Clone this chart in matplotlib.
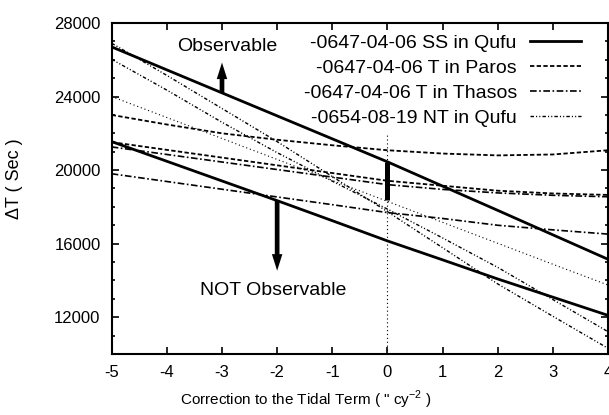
import matplotlib
matplotlib.use("Agg")
import matplotlib.pyplot as plt
from matplotlib.ticker import MultipleLocator
import numpy as np

plt.rcParams['font.family'] = ['Liberation Sans', 'DejaVu Sans']
plt.rcParams['axes.unicode_minus'] = False

# correction to the tidal term ("/cy^2)
x_vals = [-5, -4, -3, -2, -1, 0, 1, 2, 3, 4]

# -0647-04-06 SS in Qufu (upper / lower bound)
ss_qufu_hi = [26700, 25450, 24200, 22950, 21700, 20450, 19130, 17810, 16480, 15150]
ss_qufu_lo = [21550, 20480, 19410, 18340, 17250, 16150, 15120, 14080, 13090, 12100]
# -0647-04-06 T in Paros
t_paros_hi = [23000, 22480, 22000, 21650, 21350, 21080, 20900, 20800, 20850, 21080]
t_paros_lo = [21520, 21100, 20680, 20260, 19840, 19420, 19150, 18880, 18730, 18650]
# -0647-04-06 T in Thasos
t_thasos_hi = [21260, 20850, 20440, 20030, 19620, 19210, 18950, 18760, 18630, 18550]
t_thasos_lo = [19800, 19380, 18960, 18540, 18120, 17690, 17370, 17000, 16750, 16520]
# -0654-08-19 NT in Qufu
nt_qufu_a = [26900, 25150, 23350, 21550, 19650, 17740, 15780, 13810, 12050, 10310]
nt_qufu_b = [26025, 24350, 22600, 20950, 19400, 17880, 16310, 14710, 12960, 11213]
nt_qufu_c = [24000, 22860, 21720, 20580, 19440, 18300, 17160, 16020, 14880, 13750]

# arrows: x position, start, end
obs_arrow = (-3, 24200, 25850)
notobs_arrow = (-2, 18340, 14530)
bar_at_zero = (0, 20450, 18380)

fig = plt.figure(figsize=(6.09, 4.15), dpi=100)
ax = fig.add_axes([0.1834, 0.147, 0.8150, 0.7976])

ax.axvline(0, ymax=0.668, color='black', lw=0.8, linestyle=(0, (1, 2.5)))

dash = (0, (2.4, 1.3))
dashdot = (0, (4, 1.5, 1, 1.5))
ddot = (0, (2.5, 1.5, 0.8, 1.5, 0.8, 1.5))

ln1, = ax.plot(x_vals, ss_qufu_hi, color='black', lw=2.0)
ax.plot(x_vals, ss_qufu_lo, color='black', lw=2.0)

ln2, = ax.plot(x_vals, t_paros_hi, color='black', lw=1.3, linestyle=dash)
ax.plot(x_vals, t_paros_lo, color='black', lw=1.3, linestyle=dash)

ln3, = ax.plot(x_vals, t_thasos_hi, color='black', lw=1.2, linestyle=dashdot)
ax.plot(x_vals, t_thasos_lo, color='black', lw=1.2, linestyle=dashdot)

ln4, = ax.plot(x_vals, nt_qufu_a, color='black', lw=1.0, linestyle=ddot)
ax.plot(x_vals, nt_qufu_b, color='black', lw=1.0, linestyle=ddot)
ax.plot(x_vals, nt_qufu_c, color='black', lw=0.8, linestyle=(0, (1, 2.5)))

# arrows
for xa, y0, y1 in [obs_arrow, notobs_arrow]:
    ax.arrow(xa, y0, 0, y1 - y0, width=0.085, head_width=0.19, head_length=900,
             length_includes_head=True, color='black', lw=0)
ax.vlines(bar_at_zero[0], bar_at_zero[2], bar_at_zero[1], color='black', lw=3.6)

ax.text(-2.9, 26700, 'Observable', fontsize=14, ha='center', va='center')
ax.text(-2.08, 13480, 'NOT Observable', fontsize=14, ha='center', va='center')

ax.legend([ln1, ln2, ln3, ln4],
          ['-0647-04-06 SS in Qufu', '-0647-04-06 T in Paros',
           '-0647-04-06 T in Thasos', '-0654-08-19 NT in Qufu'],
          loc='upper right', bbox_to_anchor=(0.9456, 0.967),
          markerfirst=False, frameon=False, fontsize=14,
          handlelength=2.6, handletextpad=0.7, labelspacing=0.38,
          borderaxespad=0, borderpad=0)

ax.set_xlim(-5, 4)
ax.set_ylim(10000, 28000)
ax.set_xticks(range(-5, 5))
ax.set_yticks([12000, 16000, 20000, 24000, 28000])
ax.yaxis.set_minor_locator(MultipleLocator(1000))
ax.tick_params(which='both', direction='in', top=True, right=True, labelsize=12, width=1.2)
ax.tick_params(which='major', length=5)
ax.tick_params(which='minor', length=2.5)
ax.tick_params(axis='x', pad=8)
ax.tick_params(axis='y', pad=8)
for sp in ax.spines.values():
    sp.set_linewidth(1.5)

ax.set_xlabel('Correction to the Tidal Term ( " cy$^{\\mathregular{-2}}$ )', fontsize=11)
ax.xaxis.set_label_coords(0.39, -0.104)
ax.set_ylabel('\u0394T ( Sec )', fontsize=13)
ax.yaxis.set_label_coords(-0.178, 0.53)

fig.savefig('out.png', dpi=100)
